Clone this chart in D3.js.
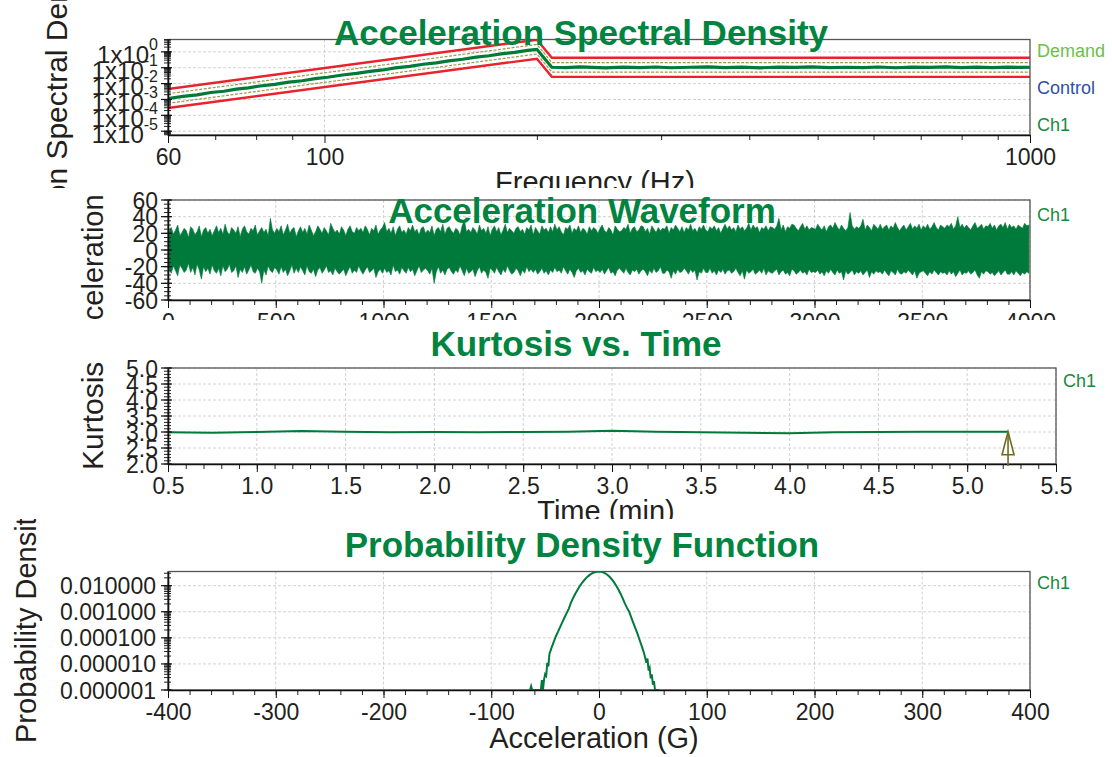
<!DOCTYPE html>
<html>
<head>
<meta charset="utf-8">
<script src="https://cdn.jsdelivr.net/npm/d3@7/dist/d3.min.js"></script>
<style>
html,body{margin:0;padding:0;background:#fff;}
svg{display:block;}
</style>
</head>
<body>
<svg id="chart" width="1112" height="757"></svg>
<script>
// ================= DATA =================
// --- Panel 1: Acceleration Spectral Density ---
const asdXLabels = [60, 100, 1000];
const asdXMinor = [70, 80, 90, 200, 300, 400, 500, 600, 700, 800, 900];
const asdYLabels = [1, 0.1, 0.01, 0.001, 0.0001, 0.00001];
const asdYExponents = ["0", "-1", "-2", "-3", "-4", "-5"];
const demandFreq = [60, 200, 210, 1000];
const demandVal = [0.00115, 1.47, 0.106, 0.106];
const alarmHighVal = [0.0023, 2.94, 0.212, 0.212];
const alarmLowVal = [0.000575, 0.735, 0.053, 0.053];
const abortHighVal = [0.00458, 5.85, 0.422, 0.422];
const abortLowVal = [0.000289, 0.369, 0.0266, 0.0266];
const ch1Freq = [60,63,66,69,72,75,78,81,85,89,93,97,101,106,111,116,121,126,132,138,144,150,157,164,171,178,186,194,200,205,210,
  220,230,240,250,265,280,295,310,330,350,370,390,415,440,465,490,520,550,580,610,645,680,720,760,800,840,885,930,975,1000];
const ch1Val = [0.00115,0.00158,0.00195,0.00275,0.00331,0.00447,0.00537,0.00708,0.00891,0.0123,
  0.0151,0.0204,0.0251,0.0347,0.0437,0.0589,0.0724,0.0977,0.123,0.166,
  0.204,0.269,0.343,0.462,0.569,0.75,0.933,1.245,1.445,0.38,0.107,
  0.101,0.112,0.104,0.099,0.109,0.103,0.111,0.100,0.107,0.113,
  0.102,0.108,0.099,0.110,0.104,0.112,0.101,0.107,0.103,0.111,
  0.100,0.108,0.104,0.112,0.102,0.109,0.101,0.110,0.104,0.107];
const asdLegend = ["Demand", "Control", "Ch1"];

// --- Panel 2: Acceleration Waveform (max / min envelope per 10 s bin) ---
const wfXLabels = [0, 500, 1000, 1500, 2000, 2500, 3000, 3500, 4000];
const wfYLabels = [-60, -40, -20, 0, 20, 40, 60];
const wfStart = 5, wfStep = 10;
const wfUpper = [
  22,27,19,24,30,17,21,26,23,15, 28,25,18,22,29,16,24,27,20,25,
  17,23,29,21,26,19,31,22,18,27, 24,20,28,16,25,29,22,19,26,23,
  30,18,23,27,21,25,17,38,24,20, 26,22,29,18,24,31,20,25,27,16,
  23,28,21,26,19,30,24,17,22,29, 25,20,27,23,18,32,26,21,24,19,
  28,24,17,25,29,22,20,27,23,26, 21,29,25,18,26,23,30,19,24,27,
  33,22,26,20,28,17,25,29,21,24, 19,27,23,30,22,25,18,26,28,20,
  24,21,29,17,25,27,22,31,19,26, 28,23,20,26,24,18,29,36,22,25,
  21,27,24,19,30,23,26,20,28,17, 25,29,22,27,18,24,31,21,26,23,
  20,26,28,22,25,19,27,24,30,18, 27,23,19,29,24,26,21,28,22,31,
  24,28,22,18,27,25,30,20,26,23, 29,21,26,24,19,28,23,27,25,20,
  26,30,23,21,27,24,18,29,25,22, 23,27,25,31,20,26,28,22,24,29,
  28,22,26,19,29,25,21,27,23,26, 25,29,20,27,24,30,26,22,28,21,
  27,24,31,23,26,21,28,25,30,24, 22,28,25,29,23,27,20,26,31,25,
  29,24,27,22,30,25,28,23,26,32, 24,30,26,28,21,27,25,29,23,28,
  27,25,29,38,24,30,22,28,26,31, 30,26,23,28,32,25,29,24,27,26,
  25,31,27,24,29,22,28,30,26,33, 28,24,30,26,23,27,45,29,25,28,
  26,29,37,24,30,27,23,31,28,25, 31,25,28,30,24,29,26,33,27,23,
  27,30,24,28,32,25,29,26,31,24, 29,26,31,25,28,33,27,24,30,28,
  26,30,28,32,25,29,40,27,31,26, 30,27,24,29,33,26,28,31,25,29,
  28,32,26,30,24,29,31,27,33,25, 31,27,29,25,30,28,26,32,29,30];
const wfLower = [
  -23,-28,-19,-25,-31,-18,-22,-27,-24,-16, -27,-21,-30,-17,-24,-35,-20,-26,-22,-29,
  -18,-25,-28,-22,-31,-19,-26,-23,-17,-27, -25,-19,-33,-23,-27,-20,-29,-24,-18,-26,
  -28,-22,-26,-40,-24,-30,-19,-25,-27,-21, -24,-29,-20,-27,-23,-31,-25,-18,-28,-22,
  -27,-20,-25,-30,-19,-26,-28,-23,-32,-24, -21,-28,-24,-19,-27,-25,-30,-22,-26,-29,
  -26,-23,-31,-25,-20,-28,-24,-27,-19,-25, -29,-24,-20,-27,-25,-22,-33,-26,-23,-28,
  -22,-27,-25,-30,-18,-26,-24,-29,-21,-25, -28,-21,-26,-23,-31,-25,-19,-27,-24,-22,
  -25,-29,-22,-40,-26,-20,-28,-24,-30,-23, -21,-26,-29,-24,-27,-19,-25,-31,-22,-28,
  -26,-23,-32,-25,-20,-28,-24,-27,-34,-22, -24,-28,-21,-26,-30,-23,-27,-19,-25,-29,
  -27,-22,-25,-31,-24,-28,-20,-26,-23,-27, -23,-29,-26,-22,-28,-25,-30,-24,-27,-21,
  -26,-24,-28,-20,-25,-29,-23,-27,-33,-25, -22,-27,-25,-30,-23,-26,-28,-21,-26,-24,
  -27,-23,-29,-25,-21,-28,-26,-31,-24,-22, -25,-28,-22,-27,-30,-24,-26,-23,-29,-25,
  -23,-26,-31,-24,-28,-22,-27,-25,-20,-28, -28,-24,-26,-34,-25,-29,-23,-27,-26,-22,
  -25,-29,-23,-27,-24,-36,-26,-28,-22,-27, -27,-22,-28,-25,-30,-24,-27,-23,-29,-25,
  -24,-28,-26,-22,-27,-31,-25,-35,-24,-28, -26,-23,-29,-27,-24,-28,-22,-30,-25,-27,
  -28,-25,-23,-30,-26,-24,-29,-27,-31,-23, -25,-29,-27,-24,-28,-26,-30,-23,-27,-26,
  -27,-24,-29,-26,-31,-25,-28,-23,-27,-30, -24,-28,-26,-36,-25,-29,-27,-24,-30,-26,
  -28,-25,-30,-27,-24,-33,-26,-29,-25,-27, -26,-29,-24,-28,-31,-25,-27,-30,-23,-28,
  -29,-26,-28,-24,-27,-30,-25,-34,-28,-26, -25,-28,-31,-26,-29,-24,-27,-30,-26,-28,
  -27,-30,-25,-29,-26,-32,-28,-24,-30,-27, -28,-25,-29,-27,-24,-30,-34,-26,-29,-25,
  -26,-29,-27,-31,-28,-25,-30,-27,-24,-29, -29,-26,-30,-25,-28,-31,-27,-29,-26,-28];

// --- Panel 3: Kurtosis vs. Time ---
const kurtXLabels = [0.5, 1.0, 1.5, 2.0, 2.5, 3.0, 3.5, 4.0, 4.5, 5.0, 5.5];
const kurtYLabels = [2.0, 2.5, 3.0, 3.5, 4.0, 4.5, 5.0];
const kurtTime = [0.5,0.75,1.0,1.25,1.5,1.75,2.0,2.25,2.5,2.75,3.0,3.25,3.5,3.75,4.0,4.25,4.5,4.75,5.0,5.23];
const kurtVal  = [2.99,2.98,3.00,3.03,3.01,2.99,3.00,2.99,3.00,3.01,3.04,3.01,2.99,2.98,2.96,2.99,3.00,3.01,3.01,3.01];

// --- Panel 4: Probability Density Function ---
const pdfXLabels = [-400, -300, -200, -100, 0, 100, 200, 300, 400];
const pdfYLabels = [0.000001, 0.00001, 0.0001, 0.001, 0.01];
const pdfX = [-64,-63,-62,-54,-53,-52,-51,-50,-49,-48,-47,-46,-44,-42,-40,-38,-36,-34,-32,-30,-28,-26,-24,-22,-20,-18,-16,-14,-12,-10,-8,-6,-4,-2,
  0,2,4,6,8,10,12,14,16,18,20,22,24,26,28,30,32,34,36,38,40,42,44,45,46,47,48,49,50,51,52,54,56];
const pdfVal = [1e-6,1.4e-6,1e-6,1e-6,2.4e-6,1e-6,2.5e-6,4e-6,3.5e-6,1.1e-5,8e-6,2.4e-5,
  4.2e-5,7e-5,1.15e-4,1.74e-4,2.63e-4,3.98e-4,6.03e-4,8.9e-4,1.32e-3,2.26e-3,3.39e-3,4.9e-3,6.9e-3,9.44e-3,0.0124,0.0158,0.0195,0.0233,0.027,0.0303,0.0328,0.0344,
  0.035,
  0.0343,0.0324,0.0293,0.0256,0.0215,0.0173,0.0134,0.0100,7.16e-3,4.94e-3,3.28e-3,2.09e-3,1.41e-3,1.0e-3,6.0e-4,3.6e-4,2.2e-4,1.32e-4,7.6e-5,4.4e-5,2.4e-5,1.1e-5,
  1.6e-5,5.6e-6,7e-6,2.8e-6,4e-6,1.6e-6,2.2e-6,1e-6,1e-6,1e-6];

// ================= DRAWING =================
const W = 1112, H = 757;
const FONT = '"Liberation Sans", Arial, Helvetica, sans-serif';
const TITLE_C = '#00843f';
const LINE_C = '#007a3a';
const TXT = '#231f20';
const GRID = '#d2d2d2';
const plain = d => String(d);

const svg = d3.select('#chart').attr('font-family', FONT);
svg.append('rect').attr('width', W).attr('height', H).attr('fill', '#fff');
const defs = svg.append('defs');
function clip(id, x, y, w, h) {
  defs.append('clipPath').attr('id', id).append('rect')
    .attr('x', x).attr('y', y).attr('width', w).attr('height', h);
  return `url(#${id})`;
}
function panel(id, y0, y1) { return svg.append('g').attr('clip-path', clip('band' + id, 0, y0, W, y1 - y0)); }
function plotClip(id, x, y) {
  const [x0, x1] = x.range(), [yb, yt] = y.range();
  return clip('plot' + id, x0, yt, x1 - x0, yb - yt);
}
function grid(g, x, y, xv, yv) {
  const [x0, x1] = x.range(), [yb, yt] = y.range();
  g.append('g').selectAll('line').data(xv).join('line')
    .attr('x1', d => x(d)).attr('x2', d => x(d)).attr('y1', yt).attr('y2', yb)
    .attr('stroke', GRID).attr('stroke-width', 1).attr('stroke-dasharray', '3,2');
  g.append('g').selectAll('line').data(yv).join('line')
    .attr('x1', x0).attr('x2', x1).attr('y1', d => y(d)).attr('y2', d => y(d))
    .attr('stroke', GRID).attr('stroke-width', 1).attr('stroke-dasharray', '3,2');
}
function frame(g, x, y) {
  const [x0, x1] = x.range(), [yb, yt] = y.range();
  g.append('rect').attr('x', x0).attr('y', yt).attr('width', x1 - x0).attr('height', yb - yt)
    .attr('fill', 'none').attr('stroke', '#555').attr('stroke-width', 1.3);
}
function bottomAxis(g, x, y, major, minor, fmt) {
  const yb = y.range()[0];
  g.append('g').attr('transform', `translate(0,${yb})`)
    .call(d3.axisBottom(x).tickValues(minor).tickSize(5).tickSizeOuter(0).tickFormat(''))
    .call(a => { a.select('.domain').remove(); a.selectAll('line').attr('stroke', '#222'); });
  g.append('g').attr('transform', `translate(0,${yb})`)
    .call(d3.axisBottom(x).tickValues(major).tickSize(8).tickSizeOuter(0).tickFormat(fmt))
    .call(a => {
      a.attr('font-size', 23).attr('font-family', FONT);
      a.select('.domain').attr('stroke', '#111').attr('stroke-width', 1.6);
      a.selectAll('line').attr('stroke', '#111');
      a.selectAll('text').attr('y', 30).attr('dy', null).attr('fill', TXT);
    });
}
function leftAxis(g, x, y, major, minor, fmt, pad) {
  const x0 = x.range()[0];
  g.append('g').selectAll('line').data(minor).join('line')
    .attr('x1', x0 - 4).attr('x2', x0 + 3).attr('y1', d => y(d)).attr('y2', d => y(d))
    .attr('stroke', '#222').attr('stroke-width', 1);
  g.append('g').selectAll('line').data(major).join('line')
    .attr('x1', x0 - 7).attr('x2', x0 + 4).attr('y1', d => y(d)).attr('y2', d => y(d))
    .attr('stroke', '#111').attr('stroke-width', 1.2);
  return g.append('g').attr('transform', `translate(${x0},0)`)
    .call(d3.axisLeft(y).tickValues(major).tickSize(0).tickSizeOuter(0).tickPadding(pad || 10).tickFormat(fmt))
    .call(a => {
      a.attr('font-size', 23).attr('font-family', FONT);
      a.select('.domain').attr('stroke', '#111').attr('stroke-width', 1.6);
      a.selectAll('text').attr('dy', '0.35em').attr('fill', TXT);
    });
}
function title(g, text, cx, base) {
  g.append('text').attr('x', cx).attr('y', base).attr('text-anchor', 'middle')
    .attr('font-size', 35).attr('font-weight', 'bold').attr('fill', TITLE_C).text(text);
}
function xTitle(g, text, cx, base) {
  g.append('text').attr('x', cx).attr('y', base).attr('text-anchor', 'middle')
    .attr('font-size', 29).attr('fill', TXT).text(text);
}
function yTitle(g, text, xb, ystart, size) {
  g.append('text').attr('transform', `translate(${xb},${ystart}) rotate(-90)`)
    .attr('text-anchor', 'start').attr('font-size', size).attr('fill', TXT).text(text);
}
function legend(g, labels, colors, x, ys) {
  g.append('g').selectAll('text').data(labels).join('text')
    .attr('x', x).attr('y', (d, i) => ys[i]).attr('font-size', 18)
    .attr('fill', (d, i) => colors[i]).text(d => d);
}
function logMinor(lo, hi) {
  const out = [];
  for (let e = Math.floor(Math.log10(lo)) - 1; e <= Math.ceil(Math.log10(hi)); e++)
    for (let m = 1; m < 10; m++) { const v = m * Math.pow(10, e); if (v >= lo && v <= hi) out.push(v); }
  return out;
}

// ---------- Panel 1 ----------
{
  const g = panel(1, 0, 188);
  const x = d3.scaleLog().domain([60, 1000]).range([168, 1030]);
  const y = d3.scaleLog().domain([5.754e-6, 6.026]).range([135, 39.5]);
  grid(g, x, y, [100], asdYLabels);
  const pg = g.append('g').attr('clip-path', plotClip(1, x, y));
  const line = d3.line().x(d => x(d[0])).y(d => y(d[1]));
  const zipF = v => demandFreq.map((f, i) => [f, v[i]]);
  pg.append('path').datum(zipF(abortHighVal)).attr('d', line).attr('fill', 'none').attr('stroke', '#e8232b').attr('stroke-width', 2.4);
  pg.append('path').datum(zipF(abortLowVal)).attr('d', line).attr('fill', 'none').attr('stroke', '#e8232b').attr('stroke-width', 2.4);
  pg.append('path').datum(zipF(alarmHighVal)).attr('d', line).attr('fill', 'none').attr('stroke', '#9b9748').attr('stroke-width', 1.2).attr('stroke-dasharray', '3,1.5');
  pg.append('path').datum(zipF(alarmLowVal)).attr('d', line).attr('fill', 'none').attr('stroke', '#9b9748').attr('stroke-width', 1.2).attr('stroke-dasharray', '3,1.5');
  pg.append('path').datum(zipF(demandVal)).attr('d', line).attr('fill', 'none').attr('stroke', '#7cc242').attr('stroke-width', 1.6);
  pg.append('path').datum(ch1Freq.map((f, i) => [f, ch1Val[i]])).attr('d', line)
    .attr('fill', 'none').attr('stroke', LINE_C).attr('stroke-width', 3.2);
  frame(g, x, y);
  bottomAxis(g, x, y, asdXLabels, asdXMinor, plain);
  const minor = logMinor(5.754e-6, 6.026);
  const ax = leftAxis(g, x, y, asdYLabels, minor, () => '', 10);
  ax.selectAll('.tick text').each(function (d) {
    const t = d3.select(this).attr('dy', null).attr('y', 11).attr('font-size', 24);
    t.text(null);
    t.append('tspan').text('1x10');
    t.append('tspan').attr('dy', -13).attr('font-size', 16).text(asdYExponents[asdYLabels.indexOf(d)]);
  });
  title(g, 'Acceleration Spectral Density', 581, 45);
  xTitle(g, 'Frequency (Hz)', 595, 192);
  yTitle(g, 'Acceleration Spectral Density (G\u00B2/Hz)', 67, 333, 30);
  legend(g, asdLegend, ['#6abf4b', '#2f4fa6', '#1a8a3e'], 1037, [57, 94, 131]);
}

// ---------- Panel 2 ----------
{
  const g = panel(2, 188, 320);
  const x = d3.scaleLinear().domain([0, 4000]).range([168, 1030]);
  const y = d3.scaleLinear().domain([-60, 60]).range([300, 200]);
  grid(g, x, y, wfXLabels, wfYLabels);
  const pg = g.append('g').attr('clip-path', plotClip(2, x, y));
  const pts = wfUpper.map((u, i) => ({ t: wfStart + i * wfStep, u: u, l: wfLower[i] }));
  pg.append('path').datum(pts)
    .attr('d', d3.area().x(d => x(d.t)).y0(d => y(d.l)).y1(d => y(d.u)))
    .attr('fill', LINE_C).attr('stroke', LINE_C).attr('stroke-width', 0.6);
  frame(g, x, y);
  bottomAxis(g, x, y, wfXLabels, d3.range(0, 4001, 100), plain);
  leftAxis(g, x, y, wfYLabels, d3.range(-60, 61, 5), plain, 10);
  title(g, 'Acceleration Waveform', 582, 223);
  yTitle(g, 'Acceleration (G)', 103, 354, 29);
  legend(g, ['Ch1'], ['#1a8a3e'], 1037, [221]);
}

// ---------- Panel 3 ----------
{
  const g = panel(3, 320, 519);
  const x = d3.scaleLinear().domain([0.5, 5.5]).range([168, 1056]);
  const y = d3.scaleLinear().domain([2, 5]).range([464, 368]);
  grid(g, x, y, kurtXLabels, kurtYLabels);
  const pg = g.append('g').attr('clip-path', plotClip(3, x, y));
  pg.append('path').datum(kurtTime.map((t, i) => [t, kurtVal[i]]))
    .attr('d', d3.line().x(d => x(d[0])).y(d => y(d[1])))
    .attr('fill', 'none').attr('stroke', LINE_C).attr('stroke-width', 2);
  frame(g, x, y);
  bottomAxis(g, x, y, kurtXLabels, d3.range(5, 56, 1).map(d => d / 10), d3.format('.1f'));
  leftAxis(g, x, y, kurtYLabels, d3.range(20, 51, 1).map(d => d / 10), d3.format('.1f'), 10);
  // current-time marker arrow
  const lt = kurtTime[kurtTime.length - 1], lv = kurtVal[kurtVal.length - 1];
  const ax = x(lt), tipY = y(lv), baseY = y.range()[0];
  const arrow = g.append('g').attr('stroke', '#6e6c1f').attr('stroke-width', 1.6).attr('fill', 'none');
  arrow.append('path').attr('d', `M${ax},${tipY}L${ax - 6},${tipY + 23}L${ax + 6},${tipY + 23}Z`).attr('fill', '#fff');
  arrow.append('line').attr('x1', ax).attr('x2', ax).attr('y1', tipY + 2).attr('y2', baseY + 2);
  title(g, 'Kurtosis vs. Time', 576, 356);
  xTitle(g, 'Time (min)', 606, 521);
  yTitle(g, 'Kurtosis', 103, 470, 30);
  legend(g, ['Ch1'], ['#1a8a3e'], 1063, [387]);
}

// ---------- Panel 4 ----------
{
  const g = panel(4, 519, 757);
  const x = d3.scaleLinear().domain([-400, 400]).range([168, 1030]);
  const y = d3.scaleLog().domain([1e-6, 0.035]).range([690, 571.5]);
  grid(g, x, y, pdfXLabels, pdfYLabels);
  const pg = g.append('g').attr('clip-path', plotClip(4, x, y));
  pg.append('path').datum(pdfX.map((v, i) => [v, pdfVal[i]]))
    .attr('d', d3.line().x(d => x(d[0])).y(d => y(d[1])))
    .attr('fill', 'none').attr('stroke', LINE_C).attr('stroke-width', 2);
  frame(g, x, y);
  bottomAxis(g, x, y, pdfXLabels, d3.range(-400, 401, 20), plain);
  leftAxis(g, x, y, pdfYLabels, logMinor(1e-6, 0.035), d => d.toFixed(6), 12);
  title(g, 'Probability Density Function', 582, 557);
  xTitle(g, 'Acceleration (G)', 594, 748);
  yTitle(g, 'Probability Density (1/G)', 36, 743, 29);
  legend(g, ['Ch1'], ['#1a8a3e'], 1037, [589]);
}
</script>
</body>
</html>
